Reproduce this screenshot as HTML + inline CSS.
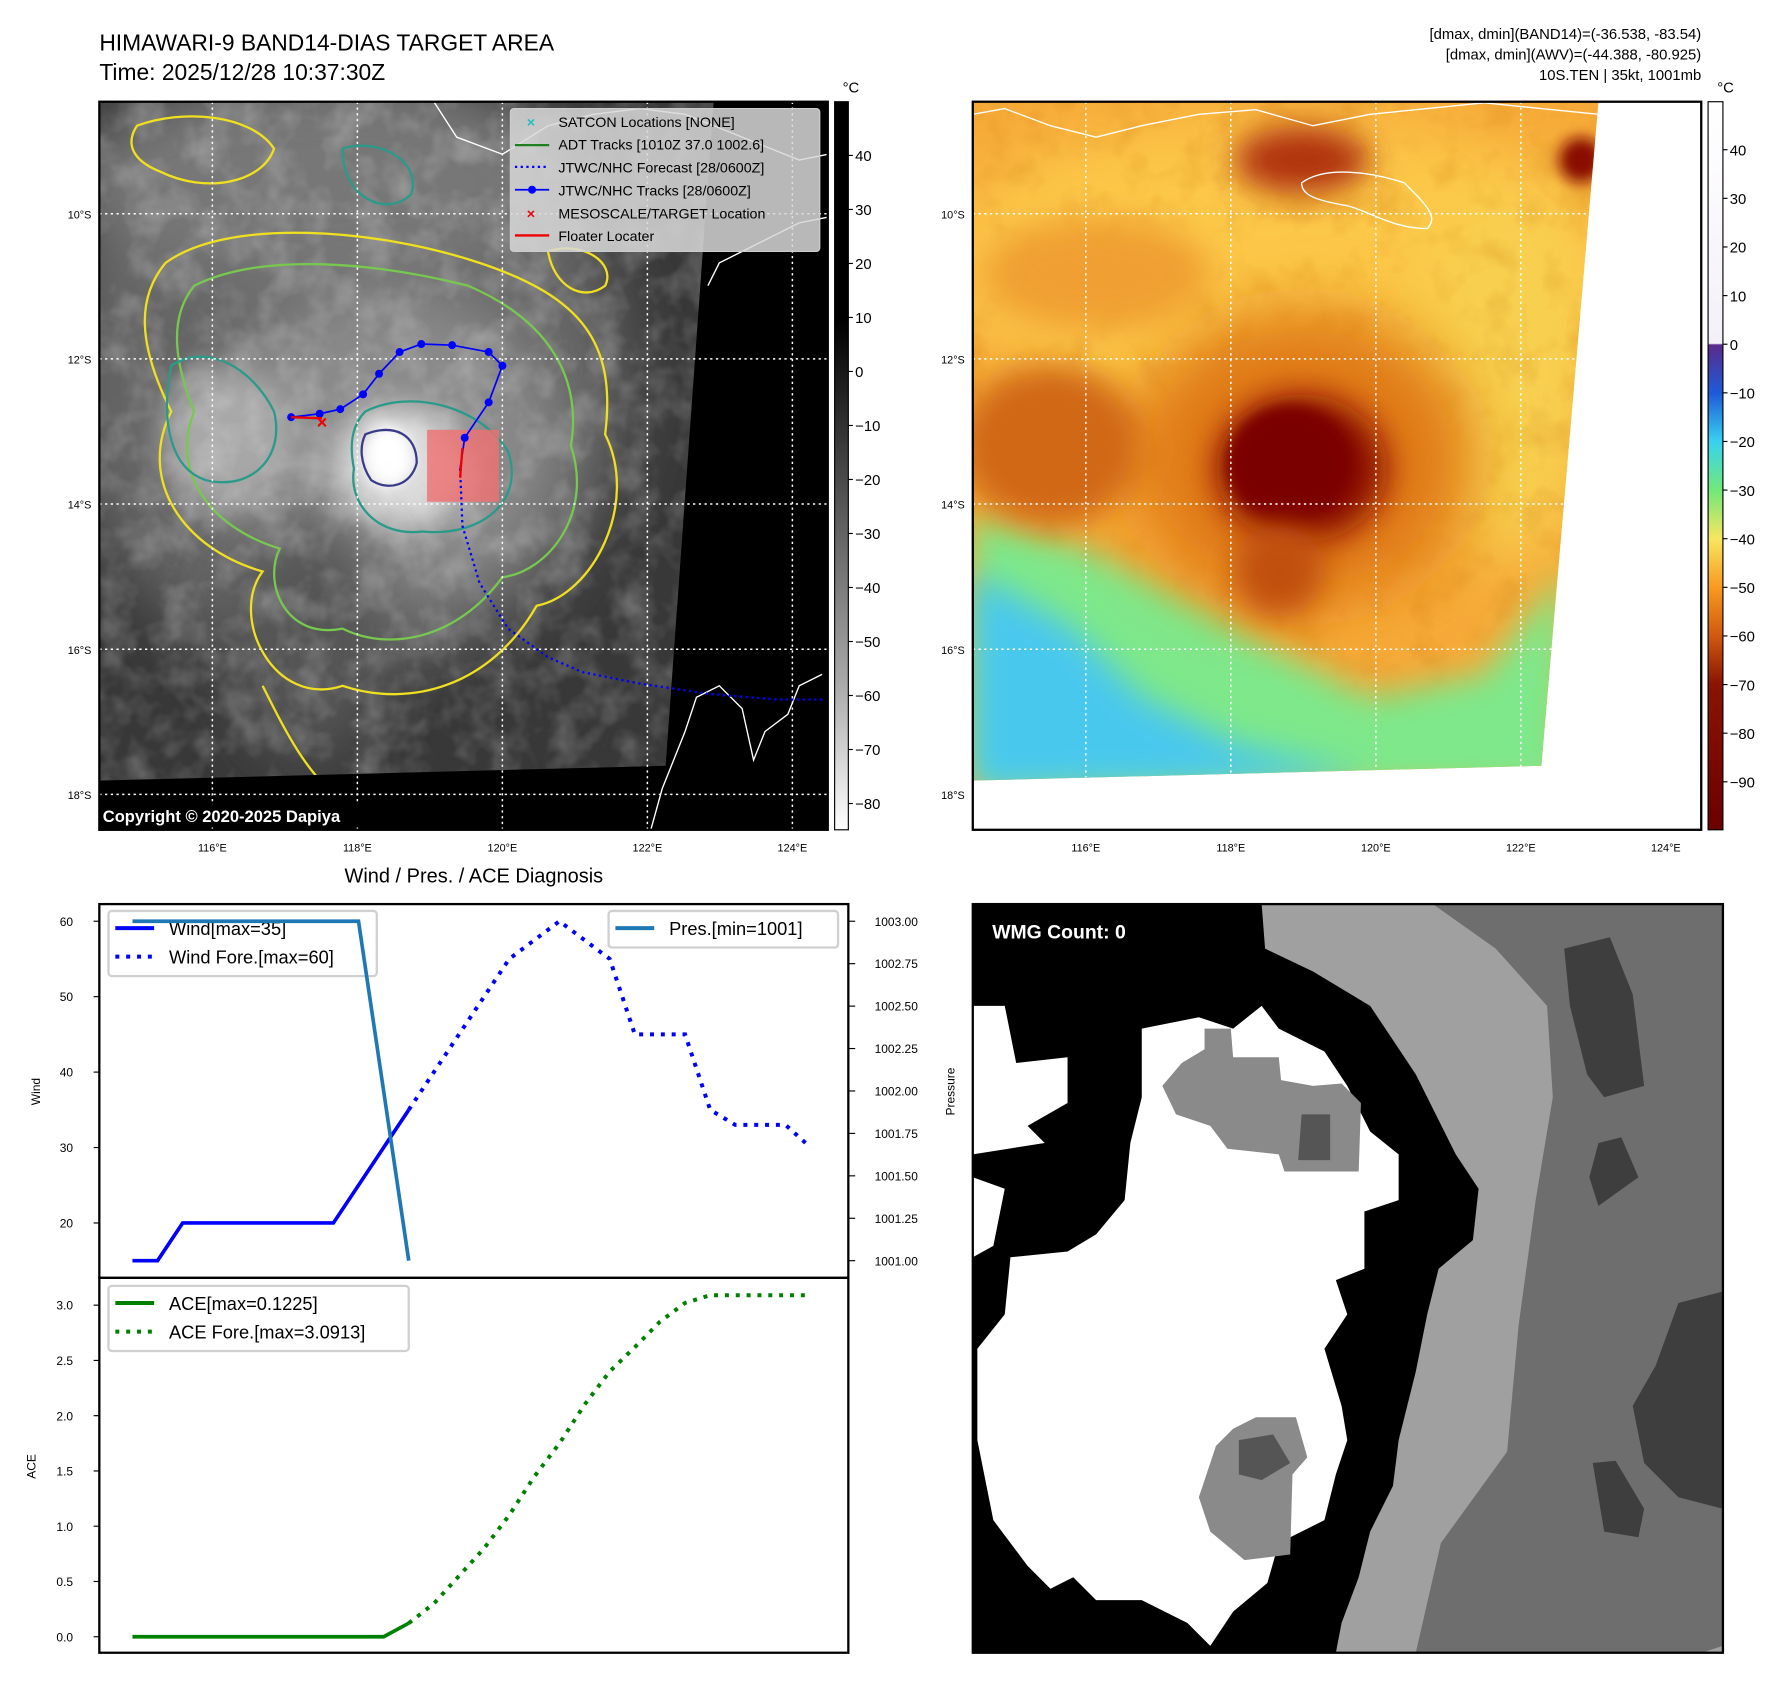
<!DOCTYPE html>
<html><head><meta charset="utf-8"><style>
html,body{margin:0;padding:0;background:#fff;}
svg{display:block;font-family:"Liberation Sans","DejaVu Sans",sans-serif;}
</style></head><body>
<svg id="fig" width="1792" height="1690" viewBox="0 0 1569.5 1478.6" preserveAspectRatio="none">
<defs>
<filter id="b30" x="-50%" y="-50%" width="200%" height="200%"><feGaussianBlur stdDeviation="28"/></filter>
<filter id="b15" x="-50%" y="-50%" width="200%" height="200%"><feGaussianBlur stdDeviation="14"/></filter>
<filter id="b6" x="-50%" y="-50%" width="200%" height="200%"><feGaussianBlur stdDeviation="6"/></filter>
<filter id="noise" x="0" y="0" width="100%" height="100%"><feTurbulence type="fractalNoise" baseFrequency="0.035" numOctaves="3" seed="4"/><feColorMatrix type="matrix" values="0 0 0 0 1  0 0 0 0 1  0 0 0 0 1  1.4 0 0 0 -0.55"/></filter>
<filter id="noise2" x="0" y="0" width="100%" height="100%"><feTurbulence type="fractalNoise" baseFrequency="0.03" numOctaves="3" seed="9"/><feColorMatrix type="matrix" values="0 0 0 0 0.55  0 0 0 0 0.15  0 0 0 0 0  1.6 0 0 0 -0.75"/></filter>
<clipPath id="cl"><rect x="87" y="89" width="638" height="637"/></clipPath>
<clipPath id="cr"><polygon points="852,89 1400,89 1350,670 852,683"/></clipPath>
<linearGradient id="gcb" x1="0" y1="0" x2="0" y2="1">
<stop offset="0" stop-color="#000"/><stop offset="0.3" stop-color="#000"/><stop offset="0.55" stop-color="#555"/><stop offset="0.8" stop-color="#aaa"/><stop offset="1" stop-color="#fff"/></linearGradient>
<linearGradient id="ccb" x1="0" y1="0" x2="0" y2="1">
<stop offset="0" stop-color="#fff"/><stop offset="0.332" stop-color="#f4f0f8"/><stop offset="0.334" stop-color="#5a2a8a"/><stop offset="0.40" stop-color="#1e5ad8"/><stop offset="0.467" stop-color="#38d2f0"/><stop offset="0.533" stop-color="#70e87a"/><stop offset="0.60" stop-color="#f8e660"/><stop offset="0.667" stop-color="#f89a20"/><stop offset="0.733" stop-color="#d05a10"/><stop offset="0.80" stop-color="#8a1400"/><stop offset="1" stop-color="#6a0000"/></linearGradient>
</defs>

<text x="87" y="44" font-size="20">HIMAWARI-9 BAND14-DIAS TARGET AREA</text>
<text x="87" y="70" font-size="20">Time: 2025/12/28 10:37:30Z</text>
<g font-size="13" text-anchor="end">
<text x="1490" y="34">[dmax, dmin](BAND14)=(-36.538, -83.54)</text>
<text x="1490" y="52">[dmax, dmin](AWV)=(-44.388, -80.925)</text>
<text x="1490" y="70">10S.TEN | 35kt, 1001mb</text>
</g>

<g clip-path="url(#cl)">
<rect x="87" y="89" width="638" height="637" fill="#383838"/>
<ellipse cx="300" cy="330" rx="250" ry="260" fill="#656565" filter="url(#b30)"/>
<ellipse cx="280" cy="160" rx="220" ry="90" fill="#777" filter="url(#b30)"/>
<ellipse cx="340" cy="390" rx="150" ry="140" fill="#8a8a8a" filter="url(#b30)"/>
<ellipse cx="200" cy="385" rx="60" ry="65" fill="#a8a8a8" filter="url(#b15)"/>
<ellipse cx="350" cy="410" rx="60" ry="55" fill="#d8d8d8" filter="url(#b15)"/>
<ellipse cx="340" cy="400" rx="22" ry="28" fill="#fff" filter="url(#b6)"/>
<ellipse cx="270" cy="560" rx="70" ry="110" fill="#555" filter="url(#b30)"/>
<rect x="87" y="89" width="638" height="637" filter="url(#noise)" opacity="0.35"/>
<path d="M145,230 C200,190 330,200 420,230 C510,260 540,300 530,380 C560,440 520,520 470,530 C430,600 360,620 300,600 C240,620 200,540 230,500 C160,480 120,420 150,360 C120,300 120,260 145,230Z" fill="none" stroke="#f0e020" stroke-width="2"/>
<path d="M170,250 C230,220 330,230 410,250 C480,280 510,330 500,390 C520,450 480,500 440,505 C400,560 340,570 300,550 C250,560 230,510 245,480 C180,460 150,410 170,360 C150,310 150,275 170,250Z" fill="none" stroke="#78c850" stroke-width="2"/>
<path d="M150,320 C180,300 220,320 240,360 C250,400 220,430 180,420 C150,410 140,370 150,320Z" fill="none" stroke="#2a9a8a" stroke-width="2"/>
<path d="M320,360 C360,340 420,355 445,395 C460,440 420,470 370,465 C330,470 305,440 310,410 C305,385 310,370 320,360Z" fill="none" stroke="#2a9a8a" stroke-width="2"/>
<path d="M320,380 C345,370 365,380 365,405 C360,425 340,430 325,420 C315,405 315,390 320,380Z" fill="none" stroke="#3a3a8a" stroke-width="2"/>
<path d="M300,130 C330,120 370,140 360,170 C340,190 300,175 300,130Z" fill="none" stroke="#2a9a8a" stroke-width="2"/>
<path d="M120,110 C160,95 220,100 240,130 C230,160 180,170 140,150 C115,140 110,125 120,110Z" fill="none" stroke="#f0e020" stroke-width="2"/>
<path d="M230,600 C250,640 270,680 300,700" fill="none" stroke="#f0e020" stroke-width="2"/>
<path d="M480,220 C510,210 540,230 530,250 C510,265 485,250 480,220Z" fill="none" stroke="#f0e020" stroke-width="2"/>
<polygon points="625,89 725,89 725,726 87,726 87,683 583,670" fill="#000"/>
<polyline points="570,726 580,690 600,640 610,610 630,600 650,620 660,665 670,640 690,625 700,600 720,590" fill="none" stroke="#fff" stroke-width="1.2"/>
<polyline points="380,89 400,120 440,135 480,110 520,100 560,95 600,100 650,120 700,140 725,135" fill="none" stroke="#fff" stroke-width="1.2"/>
<polyline points="620,250 630,230 660,215 700,195 725,190" fill="none" stroke="#fff" stroke-width="1.2"/>
</g>
<g stroke="#fff" stroke-width="1.3" stroke-dasharray="2,3">
<line x1="186" y1="89" x2="186" y2="726"/><line x1="313" y1="89" x2="313" y2="726"/><line x1="440" y1="89" x2="440" y2="726"/><line x1="567" y1="89" x2="567" y2="726"/><line x1="694" y1="89" x2="694" y2="726"/>
<line x1="87" y1="187" x2="725" y2="187"/><line x1="87" y1="314" x2="725" y2="314"/><line x1="87" y1="441" x2="725" y2="441"/><line x1="87" y1="568" x2="725" y2="568"/><line x1="87" y1="695" x2="725" y2="695"/>
</g>
<rect x="374" y="376" width="63" height="63" fill="#f07070" opacity="0.8"/>
<polyline points="255,365 280,362 298,358 318,345 332,327 350,308 369,301 396,302 428,308 440,320 428,352 407,383 403,410" fill="none" stroke="#0000ff" stroke-width="1.5"/>
<g fill="#0000ff"><circle cx="255" cy="365" r="3.5"/><circle cx="280" cy="362" r="3.5"/><circle cx="298" cy="358" r="3.5"/><circle cx="318" cy="345" r="3.5"/><circle cx="332" cy="327" r="3.5"/><circle cx="350" cy="308" r="3.5"/><circle cx="369" cy="301" r="3.5"/><circle cx="396" cy="302" r="3.5"/><circle cx="428" cy="308" r="3.5"/><circle cx="440" cy="320" r="3.5"/><circle cx="428" cy="352" r="3.5"/><circle cx="407" cy="383" r="3.5"/></g>
<polyline points="403,410 405,460 420,510 445,550 480,575 510,588 560,598 620,607 680,612 722,612" fill="none" stroke="#0000ff" stroke-width="2" stroke-dasharray="2,3"/>
<line x1="255" y1="365" x2="282" y2="366" stroke="#e00" stroke-width="2"/>
<line x1="405" y1="392" x2="403" y2="418" stroke="#e00" stroke-width="2"/>
<text x="282" y="375" font-size="16" fill="#e00" text-anchor="middle" font-weight="bold">×</text>
<rect x="90" y="704" width="270" height="20" fill="#000"/>
<text x="90" y="719" font-size="14.5" font-weight="bold" fill="#fff">Copyright © 2020-2025 Dapiya</text>
<rect x="87" y="89" width="638" height="637" fill="none" stroke="#000" stroke-width="2"/>
<g>
<rect x="447" y="95" width="271" height="125" rx="3" fill="#d8d8d8" fill-opacity="0.85" stroke="#ccc"/>
<g font-size="12.5">
<text x="465" y="111" fill="#20c0c0" text-anchor="middle" font-weight="bold">×</text><text x="489" y="111">SATCON Locations [NONE]</text>
<line x1="451" y1="127" x2="481" y2="127" stroke="#208020" stroke-width="2"/><text x="489" y="131">ADT Tracks [1010Z 37.0 1002.6]</text>
<line x1="451" y1="146" x2="481" y2="146" stroke="#00f" stroke-width="2" stroke-dasharray="2,3"/><text x="489" y="151">JTWC/NHC Forecast [28/0600Z]</text>
<line x1="451" y1="166" x2="481" y2="166" stroke="#00f" stroke-width="1.5"/><circle cx="466" cy="166" r="3.5" fill="#00f"/><text x="489" y="171">JTWC/NHC Tracks [28/0600Z]</text>
<text x="465" y="191" fill="#e00" text-anchor="middle" font-weight="bold">×</text><text x="489" y="191">MESOSCALE/TARGET Location</text>
<line x1="451" y1="206" x2="481" y2="206" stroke="#e00" stroke-width="2"/><text x="489" y="211">Floater Locater</text>
</g></g>
<g font-size="9.5" text-anchor="end">
<text x="80" y="191">10°S</text><text x="80" y="318">12°S</text><text x="80" y="445">14°S</text><text x="80" y="572">16°S</text><text x="80" y="699">18°S</text>
</g>
<g font-size="9.5" text-anchor="middle">
<text x="186" y="745">116°E</text><text x="313" y="745">118°E</text><text x="440" y="745">120°E</text><text x="567" y="745">122°E</text><text x="694" y="745">124°E</text>
</g>
<g>
<rect x="731" y="89" width="12" height="637" fill="url(#gcb)" stroke="#000" stroke-width="1"/>
<text x="738" y="81" font-size="13">°C</text>
<g font-size="13" id="gticks"></g>
</g>

<g>
<g clip-path="url(#cr)">
<rect x="852" y="89" width="560" height="600" fill="#f6aa38"/>
<ellipse cx="1120" cy="230" rx="300" ry="130" fill="#fcc848" filter="url(#b30)"/>
<ellipse cx="1320" cy="330" rx="80" ry="160" fill="#f8d050" filter="url(#b30)"/>
<rect x="852" y="89" width="560" height="600" filter="url(#noise2)" opacity="0.3"/>
<polygon points="852,450 950,480 1050,530 1120,570 1200,610 1300,590 1370,500 1370,690 852,690" fill="#7ee88a" filter="url(#b15)"/>
<polygon points="852,500 940,550 1000,610 1080,650 1200,680 852,690" fill="#48c8ee" filter="url(#b15)"/>
<ellipse cx="1140" cy="400" rx="150" ry="130" fill="#e07a18" filter="url(#b30)"/>
<ellipse cx="920" cy="390" rx="80" ry="70" fill="#d06818" filter="url(#b15)"/>
<ellipse cx="1140" cy="410" rx="75" ry="65" fill="#8a0a00" filter="url(#b15)"/>
<ellipse cx="1130" cy="405" rx="55" ry="50" fill="#7a0000" filter="url(#b6)"/>
<ellipse cx="1120" cy="500" rx="40" ry="40" fill="#c05010" filter="url(#b15)"/>
<ellipse cx="1140" cy="140" rx="60" ry="30" fill="#b03008" filter="url(#b15)"/>
<ellipse cx="1385" cy="140" rx="20" ry="20" fill="#8a1000" filter="url(#b6)"/>
<ellipse cx="960" cy="240" rx="100" ry="50" fill="#f0a030" filter="url(#b15)"/>
<polyline points="852,100 880,95 920,110 960,120 1000,110 1050,100 1100,96 1150,110 1200,100 1250,95 1300,90 1400,100" fill="none" stroke="#fff" stroke-width="1.2"/>
<path d="M1140,160 C1160,145 1200,150 1230,160 C1250,180 1260,190 1250,200 C1220,200 1200,185 1180,180 C1150,175 1140,170 1140,160Z" fill="none" stroke="#fff" stroke-width="1.2"/>
</g>
<g stroke="#fff" stroke-width="1.3" stroke-dasharray="2,3">
<line x1="951" y1="89" x2="951" y2="680"/><line x1="1078" y1="89" x2="1078" y2="677"/><line x1="1205" y1="89" x2="1205" y2="674"/><line x1="1332" y1="89" x2="1332" y2="671"/>
<line x1="852" y1="187" x2="1392" y2="187"/><line x1="852" y1="314" x2="1381" y2="314"/><line x1="852" y1="441" x2="1370" y2="441"/><line x1="852" y1="568" x2="1359" y2="568"/>
</g>
<rect x="852" y="89" width="638" height="637" fill="none" stroke="#000" stroke-width="2"/>
</g>
<g font-size="9.5" text-anchor="end">
<text x="845" y="191">10°S</text><text x="845" y="318">12°S</text><text x="845" y="445">14°S</text><text x="845" y="572">16°S</text><text x="845" y="699">18°S</text>
</g>
<g font-size="9.5" text-anchor="middle">
<text x="951" y="745">116°E</text><text x="1078" y="745">118°E</text><text x="1205" y="745">120°E</text><text x="1332" y="745">122°E</text><text x="1459" y="745">124°E</text>
</g>
<g>
<rect x="1496" y="89" width="13" height="637" fill="url(#ccb)" stroke="#000" stroke-width="1"/>
<text x="1504" y="81" font-size="13">°C</text>
<g font-size="13" id="cticks"></g>
</g>

<text x="415" y="772" font-size="17.5" text-anchor="middle">Wind / Pres. / ACE Diagnosis</text>
<g id="chart"></g>

<g>
<rect x="852" y="791" width="657" height="655" fill="#a0a0a0"/>
<polygon points="1255,791 1509,791 1509,1440 1490,1446 1240,1446 1262,1350 1320,1270 1330,1160 1345,1050 1360,960 1355,880 1310,830" fill="#6e6e6e"/>
<polygon points="1370,830 1410,820 1430,870 1440,950 1405,960 1390,940 1375,880" fill="#3e3e3e"/>
<polygon points="1400,1000 1420,995 1435,1030 1400,1055 1392,1030" fill="#3e3e3e"/>
<polygon points="1470,1140 1509,1130 1509,1320 1470,1310 1440,1280 1430,1230 1450,1195" fill="#3e3e3e"/>
<polygon points="1395,1280 1415,1278 1440,1320 1435,1345 1405,1340" fill="#3e3e3e"/>
<polygon points="852,791 1105,791 1108,830 1150,850 1200,880 1240,940 1275,1010 1295,1040 1290,1085 1260,1110 1250,1150 1240,1200 1225,1260 1220,1300 1200,1340 1190,1380 1175,1420 1170,1446 852,1446" fill="#000"/>
<polygon points="852,880 880,880 890,930 935,925 935,965 900,985 915,1000 852,1010" fill="#fff"/>
<polygon points="852,1030 880,1040 870,1090 852,1100" fill="#fff"/>
<polygon points="1000,900 1050,890 1080,900 1105,880 1120,900 1160,920 1180,950 1200,990 1225,1010 1225,1050 1195,1060 1195,1110 1170,1120 1180,1150 1160,1180 1175,1230 1180,1260 1170,1290 1160,1330 1120,1350 1110,1385 1080,1410 1060,1440 1040,1420 1000,1400 960,1400 940,1380 920,1390 900,1370 870,1330 856,1260 856,1180 880,1150 885,1100 935,1095 960,1080 985,1050 990,1000 1000,960" fill="#fff"/>
<polygon points="1035,930 1055,918 1055,900 1078,900 1080,925 1120,925 1122,945 1150,950 1175,948 1192,965 1190,1025 1125,1025 1120,1010 1075,1005 1060,985 1030,975 1018,950" fill="#8a8a8a"/>
<polygon points="1140,975 1165,975 1165,1015 1137,1015" fill="#555"/>
<polygon points="1080,1250 1100,1240 1135,1240 1145,1275 1132,1290 1130,1360 1090,1365 1060,1340 1050,1310 1065,1265" fill="#8a8a8a"/>
<polygon points="1085,1260 1115,1255 1130,1280 1105,1295 1085,1290" fill="#555"/>
<rect x="862" y="800" width="160" height="30" rx="5" fill="#000"/>
<text x="869" y="821" font-size="17" font-weight="bold" fill="#fff">WMG Count: 0</text>
<rect x="852" y="791" width="657" height="655" fill="none" stroke="#000" stroke-width="2"/>
</g>
</svg>
<script>
const obsT = [0, 1, 2, 8, 11];
const obsWind = [15, 15, 20, 20, 35];
const foreT = [11, 12, 13, 14, 15, 16, 17, 18, 19, 20, 21, 22, 23, 24, 25, 26, 27];
const foreWind = [35, 40, 45, 50, 55, 57.5, 60, 57.5, 55, 45, 45, 45, 35, 33, 33, 33, 30];
const presT = [0, 9, 11];
const presVals = [1003, 1003, 1001];
const aceObsT = [0, 10, 11];
const aceObs = [0, 0, 0.1225];
const aceFore = [0.1225, 0.3, 0.55, 0.8, 1.1, 1.45, 1.75, 2.1, 2.4, 2.62, 2.85, 3.02, 3.09, 3.09, 3.09, 3.09, 3.09];
const windTicks = [20, 30, 40, 50, 60];
const presTicks = [1001.00, 1001.25, 1001.50, 1001.75, 1002.00, 1002.25, 1002.50, 1002.75, 1003.00];
const aceTicks = [0.0, 0.5, 1.0, 1.5, 2.0, 2.5, 3.0];
const grayTicks = [40, 30, 20, 10, 0, -10, -20, -30, -40, -50, -60, -70, -80];
const colorTicks = [40, 30, 20, 10, 0, -10, -20, -30, -40, -50, -60, -70, -80, -90];

const NS = 'http://www.w3.org/2000/svg';
function mk(tag, attrs, parent) { const e = document.createElementNS(NS, tag); for (const k in attrs) e.setAttribute(k, attrs[k]); parent.appendChild(e); return e; }
const xS = t => 116 + 22 * t;
const yW = v => 806 + (60 - v) * 6.6;
const yP = v => 806 + (1003 - v) * 148.5;
const yA = v => 1432 - v * 96.7;
const yG = v => 136 + (40 - v) * 4.725;
const yC = v => 131 + (40 - v) * 4.254;

const gt = document.getElementById('gticks');
grayTicks.forEach(v => {
  const y = yG(v);
  const ln = mk('line', {x1: 743, x2: 747, y1: y, y2: y, stroke: '#000'}, gt);
  
  
  const t = mk('text', {x: 749, y: y + 5}, gt); t.textContent = v < 0 ? '\u2212' + (-v) : v;
  
  
});
const ct = document.getElementById('cticks');
colorTicks.forEach(v => {
  const y = yC(v);
  const ln = mk('line', {x1: 1509, x2: 1513, y1: y, y2: y, stroke: '#000'}, ct);
  
  
  const t = mk('text', {x: 1515, y: y + 5}, ct); t.textContent = v < 0 ? '\u2212' + (-v) : v;
  
  
});

const ch = document.getElementById('chart');
function pts(ts, vs, f) { return ts.map((t, i) => xS(t) + ',' + f(vs[i])).join(' '); }
const b1 = mk('rect', {x: 87, y: 791, width: 656, height: 327, fill: 'none', stroke: '#000', 'stroke-width': 2}, ch);


const b2 = mk('rect', {x: 87, y: 1118, width: 656, height: 328, fill: 'none', stroke: '#000', 'stroke-width': 2}, ch);


windTicks.forEach(v => {
  mk('line', {x1: 82, x2: 87, y1: yW(v), y2: yW(v), stroke: '#000'}, ch);
  const t = mk('text', {x: 64, y: yW(v) + 4, 'font-size': 10.5, 'text-anchor': 'end'}, ch); t.textContent = v;
  
  
});
presTicks.forEach(v => {
  mk('line', {x1: 743, x2: 749, y1: yP(v), y2: yP(v), stroke: '#000'}, ch);
  const t = mk('text', {x: 766, y: yP(v) + 4, 'font-size': 10.5}, ch); t.textContent = v.toFixed(2);
  
  
});
aceTicks.forEach(v => {
  mk('line', {x1: 82, x2: 87, y1: yA(v), y2: yA(v), stroke: '#000'}, ch);
  const t = mk('text', {x: 64, y: yA(v) + 4, 'font-size': 10.5, 'text-anchor': 'end'}, ch); t.textContent = v.toFixed(1);
  
  
});
let at = mk('text', {x: 35, y: 955, 'font-size': 10.5, 'text-anchor': 'middle', transform: 'rotate(-90 35 955)'}, ch); at.textContent = 'Wind';


at = mk('text', {x: 836, y: 955, 'font-size': 10.5, 'text-anchor': 'middle', transform: 'rotate(-90 836 955)'}, ch); at.textContent = 'Pressure';


at = mk('text', {x: 31, y: 1283, 'font-size': 10.5, 'text-anchor': 'middle', transform: 'rotate(-90 31 1283)'}, ch); at.textContent = 'ACE';



function legend(x, y, w, h, items, name) {
  const g = mk('g', {}, ch);
  
  
  mk('rect', {x: x, y: y, width: w, height: h, rx: 3, fill: '#fff', 'fill-opacity': 0.8, stroke: '#d0d0d0', 'stroke-width': 2}, g);
  items.forEach((it, i) => {
    const yy = y + 15 + i * 25;
    const a = {x1: x + 6, x2: x + 40, y1: yy, y2: yy, stroke: it[1], 'stroke-width': 3.5};
    if (it[2]) a['stroke-dasharray'] = '3.5,6';
    mk('line', a, g);
    const t = mk('text', {x: x + 53, y: yy + 6, 'font-size': 16}, g); t.textContent = it[0];
  });
}
legend(95, 797, 235, 57, [['Wind[max=35]', '#0000ff', false], ['Wind Fore.[max=60]', '#0000ff', true]], 'wind-legend');
legend(95, 1125, 263, 57, [['ACE[max=0.1225]', '#008000', false], ['ACE Fore.[max=3.0913]', '#008000', true]], 'ace-legend');

let l = mk('polyline', {points: pts(obsT, obsWind, yW), fill: 'none', stroke: '#0000ff', 'stroke-width': 3.2}, ch);


l = mk('polyline', {points: pts(foreT, foreWind, yW), fill: 'none', stroke: '#0000ff', 'stroke-width': 3.5, 'stroke-dasharray': '3.5,6'}, ch);


l = mk('polyline', {points: pts(presT, presVals, yP), fill: 'none', stroke: '#1f77b4', 'stroke-width': 3.2}, ch);


l = mk('polyline', {points: pts(aceObsT, aceObs, yA), fill: 'none', stroke: '#008000', 'stroke-width': 3.2}, ch);


l = mk('polyline', {points: pts(foreT, aceFore, yA), fill: 'none', stroke: '#008000', 'stroke-width': 3.5, 'stroke-dasharray': '3.5,6'}, ch);


legend(533, 797, 201, 32, [['Pres.[min=1001]', '#1f77b4', false]], 'pressure-legend');
</script>
</body></html>
